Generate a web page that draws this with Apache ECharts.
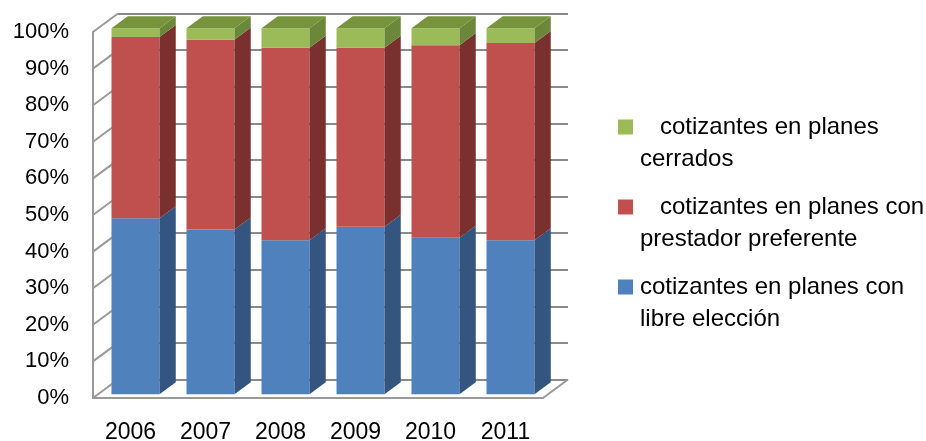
<!DOCTYPE html>
<html>
<head>
<meta charset="utf-8">
<script src="https://cdn.jsdelivr.net/npm/echarts@6/dist/echarts.min.js"></script>
<style>
  html, body { margin: 0; padding: 0; background: #ffffff; }
  #chart { width: 926px; height: 441px; }
</style>
</head>
<body>
<div id="chart"></div>
<script>
// Composition of contributors by plan type (percent of total)
const years = ['2006', '2007', '2008', '2009', '2010', '2011'];
const libreEleccion = [48.1, 45.0, 42.1, 45.8, 42.8, 42.1];
const prestadorPreferente = [49.5, 51.9, 52.6, 48.9, 52.6, 53.9];
const planesCerrados = [2.4, 3.1, 5.3, 5.3, 4.6, 4.0];
const yTicks = [0, 10, 20, 30, 40, 50, 60, 70, 80, 90, 100];

const legendLines = [
  ['   cotizantes en planes', 'cerrados'],
  ['   cotizantes en planes con', 'prestador preferente'],
  ['cotizantes en planes con', 'libre elección']
];

const FONT = '"Liberation Sans", Arial, sans-serif';
const GRID_LINE = '#8a8a8a';
const FRAME_LINE = '#9a9a9a';

// depth vector of the 3D box, and where the bars sit within that depth
const DX = 25, DY = -18.5;
const F0 = 0.2, F1 = 0.85;
const BAR_RATIO = 0.64;

// bottom-to-top stack layers with front / side / top shading
const layers = [
  { name: 'cotizantes en planes con libre elección', values: libreEleccion,
    front: '#4F81BD', side: '#34557F', top: '#3F6797' },
  { name: 'cotizantes en planes con prestador preferente', values: prestadorPreferente,
    front: '#C0504D', side: '#7A302E', top: '#9A3F3D' },
  { name: 'cotizantes en planes cerrados', values: planesCerrados,
    front: '#9BBB59', side: '#6A873A', top: '#77933C' }
];

// cumulative [index, bottom, top] for each layer
const running = years.map(() => 0);
const stackedData = layers.map(layer => layer.values.map((v, i) => {
  const lo = running[i];
  running[i] = lo + v;
  return [i, lo, running[i]];
}));

function makeBarRenderer(layer, isTop) {
  return function (params, api) {
    const i = api.value(0), lo = api.value(1), hi = api.value(2);
    const pLo = api.coord([i, lo]);
    const pHi = api.coord([i, hi]);
    const band = api.size([1, 0])[0];
    const w = band * BAR_RATIO;
    const ox = DX * F0, oy = DY * F0;
    const dx = DX * (F1 - F0), dy = DY * (F1 - F0);
    const xL = pLo[0] - w / 2 + ox, xR = xL + w;
    const yB = pLo[1] + oy, yT = pHi[1] + oy;
    const children = [
      { type: 'rect', shape: { x: xL, y: yT, width: w, height: yB - yT },
        style: { fill: layer.front } },
      { type: 'polygon', shape: { points: [[xR, yT], [xR + dx, yT + dy], [xR + dx, yB + dy], [xR, yB]] },
        style: { fill: layer.side } }
    ];
    if (isTop) {
      children.push({ type: 'polygon',
        shape: { points: [[xL, yT], [xL + dx, yT + dy], [xR + dx, yT + dy], [xR, yT]] },
        style: { fill: layer.top } });
    }
    return { type: 'group', children: children };
  };
}

// side wall and floor edges of the 3D box
function renderFrame(params, api) {
  const v = api.value(1);
  const p = api.coord([0, v]);
  const band = api.size([1, 0])[0];
  const xLeft = p[0] - band / 2;
  const style = { stroke: FRAME_LINE, lineWidth: 2 };
  const children = [
    { type: 'line', shape: { x1: xLeft, y1: p[1], x2: xLeft + DX, y2: p[1] + DY }, style: style }
  ];
  if (v === 0) {
    const xRight = api.coord([years.length - 1, 0])[0] + band / 2;
    children.push({ type: 'line',
      shape: { x1: xRight, y1: p[1], x2: xRight + DX, y2: p[1] + DY }, style: style });
  }
  return { type: 'group', children: children };
}

const series = [
  { type: 'custom', name: 'frame', xAxisIndex: 0, yAxisIndex: 0, clip: false, silent: true,
    renderItem: renderFrame, data: yTicks.map(v => [0, v]), encode: { x: 0, y: 1 }, z: 1 }
];
layers.forEach((layer, k) => {
  series.push({
    type: 'custom', name: layer.name, xAxisIndex: 0, yAxisIndex: 0, clip: false,
    renderItem: makeBarRenderer(layer, k === layers.length - 1),
    data: stackedData[k], encode: { x: 0, y: [1, 2] }, z: 3 + k
  });
});

// legend drawn as marker squares with two-line labels
const legendY = [127, 207, 287];
const legendGraphic = [];
layers.slice().reverse().forEach((layer, k) => {
  const y = legendY[k];
  legendGraphic.push({ type: 'rect', left: 618, top: y - 7.5,
    shape: { width: 15, height: 15 }, style: { fill: layer.front } });
  legendLines[k].forEach((line, j) => {
    legendGraphic.push({ type: 'text', x: 640, y: y + j * 32,
      style: { text: line, font: '24px ' + FONT, fill: '#000', verticalAlign: 'middle', align: 'left' } });
  });
});

const chart = echarts.init(document.getElementById('chart'), null, { renderer: 'canvas' });
chart.setOption({
  backgroundColor: '#ffffff',
  animation: false,
  grid: [
    { left: 93, top: 32, width: 450, height: 366, outerBoundsMode: 'none', containLabel: false },
    { left: 93 + DX, top: 32 + DY, width: 450, height: 366, outerBoundsMode: 'none', containLabel: false }
  ],
  xAxis: [
    { type: 'category', gridIndex: 0, data: years,
      axisLine: { show: true, lineStyle: { color: FRAME_LINE, width: 2 } },
      axisTick: { show: false },
      axisLabel: { color: '#000', fontSize: 23, fontFamily: FONT, margin: 23 },
      splitLine: { show: false } },
    { type: 'category', gridIndex: 1, data: years, show: false }
  ],
  yAxis: [
    { type: 'value', gridIndex: 0, min: 0, max: 100, interval: 10,
      axisLine: { show: true, lineStyle: { color: FRAME_LINE, width: 2 } },
      axisTick: { show: false },
      axisLabel: { formatter: '{value}%', color: '#000', fontSize: 22, fontFamily: FONT, margin: 24 },
      splitLine: { show: false } },
    { type: 'value', gridIndex: 1, min: 0, max: 100, interval: 10,
      axisLine: { show: false }, axisTick: { show: false }, axisLabel: { show: false },
      splitLine: { show: true, lineStyle: { color: GRID_LINE, width: 2 } } }
  ],
  series: series,
  graphic: legendGraphic
});
</script>
</body>
</html>
